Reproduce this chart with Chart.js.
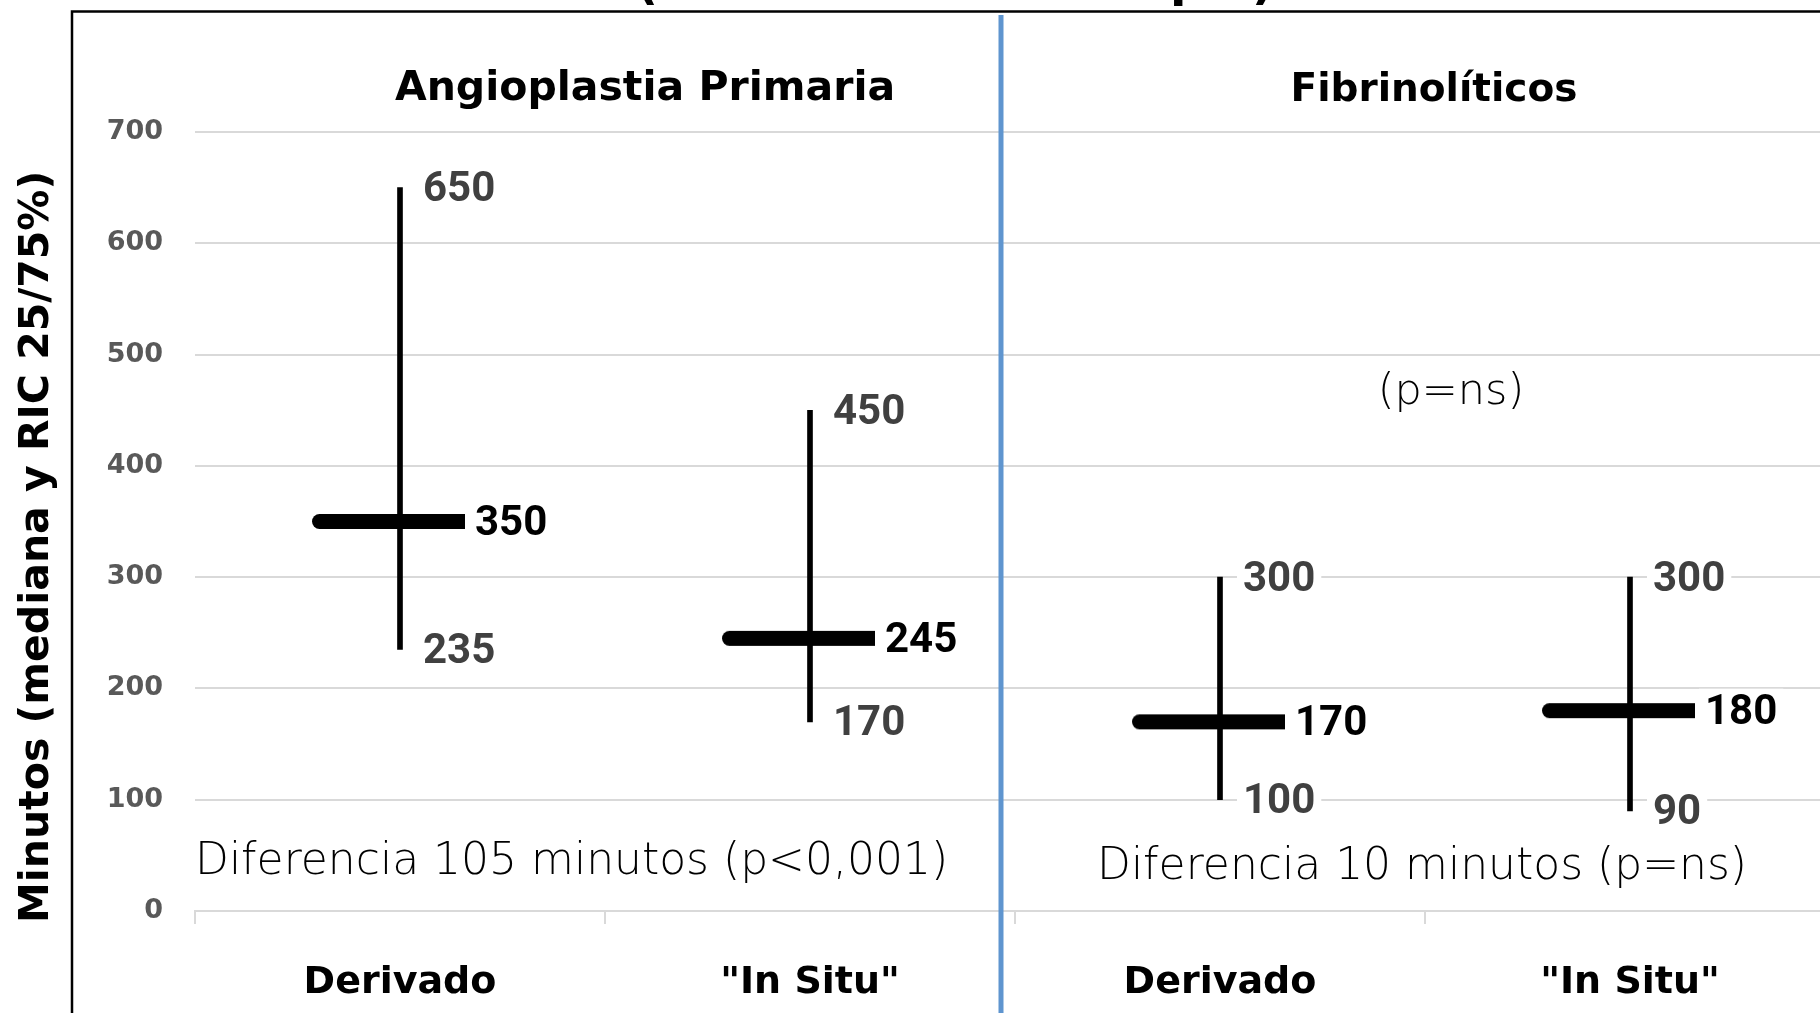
<!DOCTYPE html>
<html>
<head>
<meta charset="utf-8">
<script src="https://cdn.jsdelivr.net/npm/chart.js@4.4.1/dist/chart.umd.min.js"></script>
<style>
  html, body { margin: 0; padding: 0; background: #fff; overflow: hidden; }
  #wrap { width: 1846px; height: 1013px; }
</style>
</head>
<body>
<div id="wrap"><canvas id="chart" width="1846" height="1013"></canvas></div>
<script>
// data
const categories = ['Derivado', '"In Situ"', 'Derivado', '"In Situ"'];
const p25 = [235, 170, 100, 90];
const p75 = [650, 450, 300, 300];
const medians = [350, 245, 170, 180];
const yMin = 0, yMax = 700, yStep = 100;

const panelTitles = ['Angioplastia Primaria', 'Fibrinolíticos'];
const notes = ['Diferencia 105 minutos (p<0,001)', 'Diferencia 10 minutos (p=ns)', '(p=ns)'];
const yTitle = 'Minutos (mediana y RIC 25/75%)';

// median marker: thick dash, rounded on the left, longer on the left of the whisker
const LEFT = 88, RIGHT = 65, THICK = 15;
const marker = document.createElement('canvas');
marker.width = LEFT * 2;
marker.height = THICK + 2;
{
  const m = marker.getContext('2d');
  const r = THICK / 2, y0 = 1;
  m.fillStyle = '#000';
  m.beginPath();
  m.moveTo(r, y0);
  m.lineTo(LEFT + RIGHT, y0);
  m.lineTo(LEFT + RIGHT, y0 + THICK);
  m.lineTo(r, y0 + THICK);
  m.arc(r, y0 + r, r, Math.PI / 2, Math.PI * 1.5);
  m.closePath();
  m.fill();
}

function boxedText(ctx, text, x, y, color) {
  const w = ctx.measureText(text).width;
  ctx.fillStyle = '#fff';
  ctx.fillRect(x - 6, y - 22, w + 12, 44);
  ctx.fillStyle = color;
  ctx.fillText(text, x, y + 3);
}

// value labels next to whisker ends and medians
const valueLabels = {
  id: 'valueLabels',
  afterDatasetsDraw(chart) {
    const ctx = chart.ctx;
    const y = chart.scales.y;
    const bars = chart.getDatasetMeta(0).data;
    const pts = chart.getDatasetMeta(1).data;
    ctx.save();
    ctx.font = 'bold 42px Roboto';
    ctx.textAlign = 'left';
    ctx.textBaseline = 'middle';
    bars.forEach((b, i) => {
      boxedText(ctx, String(p75[i]), b.x + 23, y.getPixelForValue(p75[i]), '#404040');
      boxedText(ctx, String(p25[i]), b.x + 23, y.getPixelForValue(p25[i]), '#404040');
    });
    pts.forEach((p, i) => {
      boxedText(ctx, String(medians[i]), p.x + RIGHT + 10, p.y, '#000');
    });
    ctx.restore();
  }
};

// frame, divider and free text
const decor = {
  id: 'decor',
  beforeDraw(chart) {
    const ctx = chart.ctx;
    ctx.save();
    ctx.fillStyle = '#fff';
    ctx.fillRect(0, 0, chart.width, chart.height);
    ctx.restore();
  },
  afterDraw(chart) {
    const ctx = chart.ctx;
    ctx.save();
    // cut-off title remnants
    ctx.fillStyle = '#000';
    ctx.font = 'bold 48px "DejaVu Sans"';
    ctx.textBaseline = 'alphabetic';
    ctx.textAlign = 'left';
    ctx.fillText('(', 636, -1);
    ctx.fillText('p', 1170, -4);
    ctx.fillText(')', 1252, -1);

    // black frame
    ctx.strokeStyle = '#000';
    ctx.lineWidth = 2.5;
    ctx.beginPath();
    ctx.moveTo(72, 1013);
    ctx.lineTo(72, 11.5);
    ctx.lineTo(1846, 11.5);
    ctx.stroke();

    // blue divider
    ctx.strokeStyle = '#5f95cf';
    ctx.lineWidth = 5;
    ctx.beginPath();
    ctx.moveTo(1001, 15);
    ctx.lineTo(1001, 1013);
    ctx.stroke();

    // panel titles
    ctx.fillStyle = '#000';
    ctx.textAlign = 'center';
    ctx.textBaseline = 'middle';
    ctx.font = 'bold 41px "DejaVu Sans"';
    ctx.fillText(panelTitles[0], 645, 89);
    ctx.font = 'bold 39px "DejaVu Sans"';
    ctx.fillText(panelTitles[1], 1434, 91);

    // notes
    ctx.font = '200 44px "DejaVu Sans"';
    ctx.textAlign = 'left';
    ctx.fillText(notes[0], 195, 863);
    ctx.textAlign = 'center';
    ctx.fillText(notes[1], 1422, 868);
    ctx.font = '200 43px "DejaVu Sans"';
    ctx.fillText(notes[2], 1451, 393);

    // y axis title
    ctx.translate(37, 547);
    ctx.rotate(-Math.PI / 2);
    ctx.font = 'bold 41px "DejaVu Sans"';
    ctx.fillText(yTitle, 0, 0);
    ctx.restore();
  }
};

new Chart(document.getElementById('chart'), {
  type: 'bar',
  data: {
    labels: categories,
    datasets: [
      {
        label: 'RIC 25/75%',
        data: p25.map((v, i) => [v, p75[i]]),
        backgroundColor: '#000',
        borderWidth: 0,
        barThickness: 5,
        order: 2
      },
      {
        type: 'line',
        label: 'Mediana',
        data: medians,
        showLine: false,
        pointStyle: marker,
        pointRadius: 10,
        borderColor: '#000',
        backgroundColor: '#000',
        order: 1
      }
    ]
  },
  options: {
    responsive: false,
    devicePixelRatio: 1,
    animation: false,
    layout: { padding: { left: 0, top: 132, right: 5, bottom: 0 } },
    plugins: {
      legend: { display: false },
      tooltip: { enabled: false },
      title: { display: false }
    },
    scales: {
      x: {
        offset: true,
        grid: {
          offset: true,
          drawOnChartArea: false,
          drawTicks: true,
          tickLength: 13,
          color: '#d9d9d9',
          lineWidth: 2
        },
        border: { display: true, color: '#d9d9d9', width: 2 },
        ticks: {
          color: '#000',
          padding: 36,
          font: { family: 'DejaVu Sans', size: 38, weight: 'bold' }
        },
        afterFit(s) { s.height = 102; }
      },
      y: {
        min: yMin,
        max: yMax,
        ticks: {
          stepSize: yStep,
          color: '#595959',
          padding: 32,
          font: { family: 'DejaVu Sans', size: 27, weight: 'bold' }
        },
        grid: { color: '#d9d9d9', lineWidth: 2, drawTicks: false },
        border: { display: false },
        afterFit(s) { s.width = 195; }
      }
    }
  },
  plugins: [decor, valueLabels]
});
</script>
</body>
</html>
